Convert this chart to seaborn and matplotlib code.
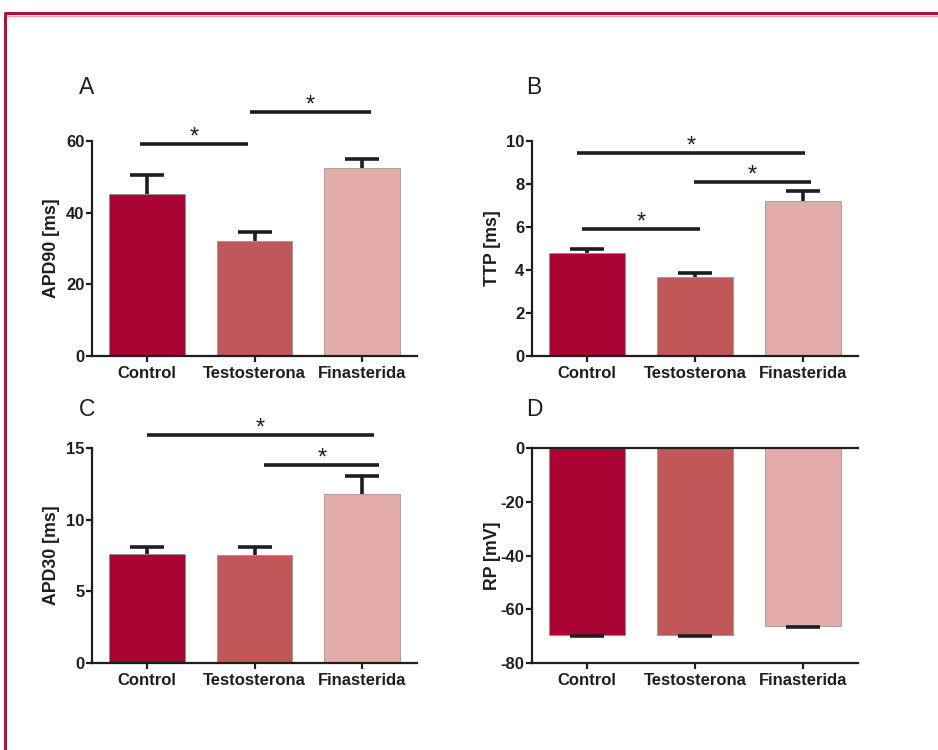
import numpy as np
import matplotlib
matplotlib.use("Agg")
import matplotlib.pyplot as plt
import seaborn as sns
from matplotlib.lines import Line2D

# datos
grupos = ["Control", "Testosterona", "Finasterida"]
colores = ["#aa0532", "#c0585a", "#e2ada8"]

apd90 = [45.2, 32.2, 52.6]
apd90_err = [5.3, 2.4, 2.4]

ttp = [4.78, 3.67, 7.2]
ttp_err = [0.2, 0.18, 0.46]

apd30 = [7.57, 7.52, 11.82]
apd30_err = [0.53, 0.54, 1.21]

rp = [-69.6, -69.6, -66.1]
rp_err = [0.3, 0.2, 0.6]

sns.set_style("ticks")
plt.rcParams["font.family"] = ["Liberation Sans", "DejaVu Sans"]
plt.rcParams["axes.unicode_minus"] = False

fig = plt.figure(figsize=(9.38, 7.5), dpi=100)

ink = "#1e1e1e"


def panel(rect, valores, errores, ylabel, ylim, yticks, letra, lab_x, brackets, abajo=False):
    ax = fig.add_axes(rect)
    sns.barplot(x=grupos, y=valores, hue=grupos, palette=colores, legend=False,
                errorbar=None, width=0.7, saturation=1, edgecolor="#8c8c8c",
                linewidth=0.5, ax=ax)
    ceros = np.zeros(len(valores))
    yerr = [errores, ceros] if abajo else [ceros, errores]
    _, caps, _ = ax.errorbar(range(len(grupos)), valores, yerr=yerr, fmt="none",
                             ecolor=ink, elinewidth=2.6, capsize=12.5, capthick=2.6,
                             zorder=0.5)
    # solo una tapa (la del extremo del error)
    caps[1 if abajo else 0].set_visible(False)
    caps[0 if abajo else 1].set_zorder(3)
    ax.set_xlim(-0.51, 2.51)
    ax.set_ylim(*ylim)
    ax.set_yticks(yticks)
    ax.set_ylabel(ylabel, fontsize=12.8, fontweight="bold", color=ink)
    ax.yaxis.set_label_coords(lab_x, 0.5)
    sns.despine(ax=ax, top=not abajo)
    for s in ["left", "bottom", "top"]:
        ax.spines[s].set_linewidth(1.6)
        ax.spines[s].set_color(ink)
    ax.tick_params(axis="both", length=4.5, width=1.6, color=ink, labelcolor=ink,
                   labelsize=12)
    ax.tick_params(axis="y", pad=1)
    ax.tick_params(axis="x", pad=3)
    ax.tick_params(top=False)
    for t in ax.get_xticklabels() + ax.get_yticklabels():
        t.set_fontweight("bold")
    ax.set_xlabel("")
    # barras de significancia
    for x0, x1, h in brackets:
        ax.plot([x0, x1], [h, h], color=ink, lw=2.6, clip_on=False, solid_capstyle="butt")
        ax.annotate("*", xy=((x0 + x1) / 2, h), xytext=(0, 0.3), textcoords="offset points",
                    ha="center", va="baseline", fontsize=17, color=ink, annotation_clip=False)
    fig.text(*letra[1], letra[0], fontsize=16.5, color=ink, ha="center", va="center")
    return ax


W, H = 938, 750


def rect(x0, x1, ytop, ybot):
    return [x0 / W, 1 - ybot / H, (x1 - x0) / W, (ybot - ytop) / H]


panel(rect(92, 417, 141, 356), apd90, apd90_err, "APD90 [ms]", (0, 60), [0, 20, 40, 60],
      ("A", (87 / W, 1 - 88 / H)), -0.10,
      [(-0.06, 0.94, 59.2), (0.96, 2.08, 68.1)])
panel(rect(532, 858, 141, 356), ttp, ttp_err, "TTP [ms]", (0, 10), [0, 2, 4, 6, 8, 10],
      ("B", (534 / W, 1 - 88 / H)), -0.095,
      [(-0.09, 2.02, 9.46), (0.995, 2.07, 8.09), (-0.05, 1.05, 5.89)])
panel(rect(92, 417, 448, 663), apd30, apd30_err, "APD30 [ms]", (0, 15), [0, 5, 10, 15],
      ("C", (87 / W, 1 - 410 / H)), -0.10,
      [(0.0, 2.11, 15.88), (1.09, 2.16, 13.8)])
panel(rect(532, 858, 448, 663), rp, rp_err, "RP [mV]", (-80, 0), [0, -20, -40, -60, -80],
      ("D", (534 / W, 1 - 410 / H)), -0.095, [], abajo=True)

# marco
borde = "#b0103c"
fig.add_artist(Line2D([5 / W, 5 / W, 1], [0, 1 - 13 / H, 1 - 13 / H], color=borde, lw=2.2,
                      transform=fig.transFigure))
fig.add_artist(Line2D([7 / W, 1], [1 - 15.5 / H, 1 - 15.5 / H], color="#e8a0b4", lw=1,
                      transform=fig.transFigure))

fig.savefig("out.png", dpi=100)
